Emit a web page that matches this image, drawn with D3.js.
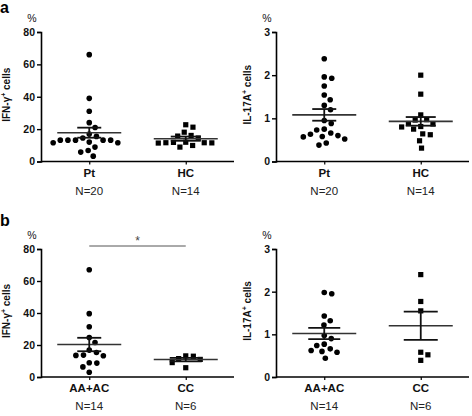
<!DOCTYPE html>
<html><head><meta charset="utf-8">
<script src="https://cdn.jsdelivr.net/npm/d3@7"></script>
<style>
html,body{margin:0;padding:0;background:#fff;}
svg{display:block;font-family:"Liberation Sans",Arial,sans-serif;}
</style></head>
<body>
<svg id="c" width="472" height="416"></svg>
<script>
// ---------- data ----------
const groupsA = ["Pt", "HC"];
const countsA = ["N=20", "N=14"];
const groupsB = ["AA+AC", "CC"];
const countsB = ["N=14", "N=6"];
const ticksIFN = [0, 20, 40, 60, 80];
const ticksIL = [0, 1, 2, 3];

const ifnPt = [66, 39, 31, 24, 21, 17, 15.5, 13.2, 13.2, 13.2, 13.2, 13.2, 11.6, 11.6, 8.9, 6.8, 5.8, 3.3, 12.0, 14.5];
const ifnHC = [22.7, 21.2, 18.1, 16.1, 15.7, 14.5, 11.8, 11.6, 11.4, 11.6, 11.9, 11.5, 9.9, 8.9];
const ilPt = [2.38, 1.93, 1.96, 1.75, 1.54, 1.43, 1.30, 1.20, 0.95, 0.88, 0.73, 0.75, 0.58, 0.63, 0.66, 0.57, 0.60, 0.52, 0.38, 0.43];
const ilHC = [2.0, 1.56, 1.08, 0.97, 0.96, 0.88, 0.87, 0.81, 0.80, 0.75, 0.64, 0.62, 0.48, 0.31];
const ifnAA = [67, 39.6, 31.4, 24.7, 21.6, 16.8, 15.3, 13.7, 13.5, 13.3, 8.9, 8.7, 6.3, 3.0];
const ifnCC = [13.2, 13.0, 11.5, 11.0, 9.0, 5.8];
const ilAA = [1.98, 1.95, 1.43, 1.32, 1.22, 0.97, 0.90, 0.77, 0.74, 0.66, 0.62, 0.60, 0.58, 0.44];
const ilCC = [2.40, 1.77, 1.55, 0.58, 0.52, 0.39];

// mean and SEM
const meanIfnA = [17.8, 14.1], semIfnA = [3.1, 1.3];
const meanIlA = [1.08, 0.93], semIlA = [0.135, 0.1];
const meanIfnB = [20.3, 10.9], semIfnB = [4.2, 1.1];
const meanIlB = [1.02, 1.20], semIlB = [0.13, 0.33];

// ---------- drawing ----------
const svg = d3.select("#c");

function swarm(values, y, D) {
  const pts = values.map(v => ({v, y: y(v), x: 0})).sort((a, b) => b.v - a.v);
  const placed = [];
  for (const p of pts) {
    const cand = [0];
    for (const q of placed) {
      const dy = p.y - q.y;
      if (Math.abs(dy) < D) {
        const dx = Math.sqrt(D * D - dy * dy);
        cand.push(q.x + dx, q.x - dx);
      }
    }
    cand.sort((a, b) => Math.abs(a) - Math.abs(b) || b - a);
    for (const c of cand) {
      const ok = placed.every(q => (c - q.x) ** 2 + (p.y - q.y) ** 2 >= D * D - 0.01);
      if (ok) { p.x = c; break; }
    }
    placed.push(p);
  }
  return pts;
}

function panel(o) {
  const g = svg.append("g");
  const x = d3.scalePoint().domain(o.groups).range([o.x0, o.x1]).padding(0.5);
  const y = d3.scaleLinear().domain([0, o.ymax]).range([o.yb, o.yt]);

  // y axis
  const ya = g.append("g").attr("transform", `translate(${o.x0},0)`)
    .call(d3.axisLeft(y).tickValues(o.ticks).tickFormat(d3.format("d")).tickSize(4).tickPadding(2));
  ya.select(".domain").attr("stroke", "#000").attr("stroke-width", 1.6);
  ya.selectAll(".tick line").attr("stroke", "#000").attr("stroke-width", 1.4);
  ya.selectAll(".tick text").attr("font-size", 10.5).attr("font-weight", "bold")
    .attr("font-family", "Liberation Sans, Arial, sans-serif").attr("fill", "#111");

  // x axis
  const xa = g.append("g").attr("transform", `translate(0,${o.yb})`)
    .call(d3.axisBottom(x).tickSize(3).tickFormat(""));
  xa.select(".domain").attr("d", `M${o.x0},0H${o.x1}`).attr("stroke", "#000").attr("stroke-width", 1.6);
  xa.selectAll(".tick line").attr("stroke", "#000").attr("stroke-width", 1.2);

  // category labels
  o.groups.forEach((c, i) => {
    g.append("text").attr("x", x(c)).attr("y", o.yb + 15).attr("text-anchor", "middle")
      .attr("font-size", 11.5).attr("font-weight", "bold").attr("fill", "#111").text(c);
    g.append("text").attr("x", x(c)).attr("y", o.yb + 33).attr("text-anchor", "middle")
      .attr("font-size", 11.5).attr("fill", "#222").text(o.counts[i]);
  });

  // % label
  g.append("text").attr("x", o.x0 - 9).attr("y", o.yt - 10).attr("text-anchor", "middle")
    .attr("font-size", 10.5).attr("fill", "#111").text("%");

  // y title
  const yt = g.append("text").attr("transform", `translate(${o.x0 - o.titleOff},${(o.yb + o.yt) / 2 - 2}) rotate(-90)`)
    .attr("text-anchor", "middle").attr("font-size", 10).attr("font-weight", "bold").attr("fill", "#111");
  yt.append("tspan").text(o.title[0]);
  yt.append("tspan").attr("font-size", 7).attr("dy", -4).text("+");
  yt.append("tspan").attr("dy", 4).text(o.title[1]);

  // points
  o.series.forEach((vals, i) => {
    const pts = swarm(vals, y, 7.6);
    const cx = x(o.groups[i]);
    if (o.shapes[i] === "circle") {
      g.selectAll(null).data(pts).join("circle")
        .attr("cx", d => cx + d.x).attr("cy", d => d.y).attr("r", 2.8).attr("fill", "#000");
    } else {
      g.selectAll(null).data(pts).join("rect")
        .attr("x", d => cx + d.x - 2.6).attr("y", d => d.y - 2.6)
        .attr("width", 5.2).attr("height", 5.2).attr("fill", "#000");
    }
    // mean and SEM
    const m = o.means[i], s = o.sems[i];
    g.append("line").attr("x1", cx - 32).attr("x2", cx + 32).attr("y1", y(m)).attr("y2", y(m))
      .attr("stroke", "#333").attr("stroke-width", 1.6);
    g.append("line").attr("x1", cx).attr("x2", cx).attr("y1", y(m - s)).attr("y2", y(m + s))
      .attr("stroke", "#111").attr("stroke-width", 1.8);
    [m - s, m + s].forEach(v => {
      g.append("line").attr("x1", cx - o.semw[i]).attr("x2", cx + o.semw[i]).attr("y1", y(v)).attr("y2", y(v))
        .attr("stroke", "#111").attr("stroke-width", 1.8);
    });
  });
  return {x, y, g};
}

panel({groups: groupsA, counts: countsA, x0: 41, x1: 234, yb: 161.5, yt: 32, ymax: 80, ticks: ticksIFN,
  title: ["IFN-γ", " cells"], titleOff: 31, series: [ifnPt, ifnHC], shapes: ["circle", "rect"],
  means: meanIfnA, sems: semIfnA, semw: [12, 15]});
panel({groups: groupsA, counts: countsA, x0: 276, x1: 469, yb: 161.5, yt: 32, ymax: 3, ticks: ticksIL,
  title: ["IL-17A", " cells"], titleOff: 25, series: [ilPt, ilHC], shapes: ["circle", "rect"],
  means: meanIlA, sems: semIlA, semw: [12, 15]});
const pb = panel({groups: groupsB, counts: countsB, x0: 41, x1: 234, yb: 377, yt: 249, ymax: 80, ticks: ticksIFN,
  title: ["IFN-γ", " cells"], titleOff: 31, series: [ifnAA, ifnCC], shapes: ["circle", "rect"],
  means: meanIfnB, sems: semIfnB, semw: [12, 16]});
panel({groups: groupsB, counts: countsB, x0: 276, x1: 469, yb: 377, yt: 249, ymax: 3, ticks: ticksIL,
  title: ["IL-17A", " cells"], titleOff: 25, series: [ilAA, ilCC], shapes: ["circle", "rect"],
  means: meanIlB, sems: semIlB, semw: [16, 17]});

// significance bar
const sy = pb.y(80) - 3;
pb.g.append("line").attr("x1", pb.x(groupsB[0])).attr("x2", pb.x(groupsB[1])).attr("y1", sy).attr("y2", sy)
  .attr("stroke", "#555").attr("stroke-width", 1);
pb.g.append("text").attr("x", (pb.x(groupsB[0]) + pb.x(groupsB[1])) / 2).attr("y", sy - 1)
  .attr("text-anchor", "middle").attr("font-size", 12).attr("fill", "#444").text("*");

// panel letters
svg.append("text").attr("x", 0).attr("y", 13).attr("font-size", 16).attr("font-weight", "bold").text("a");
svg.append("text").attr("x", 0).attr("y", 226).attr("font-size", 16).attr("font-weight", "bold").text("b");
</script>
</body></html>
